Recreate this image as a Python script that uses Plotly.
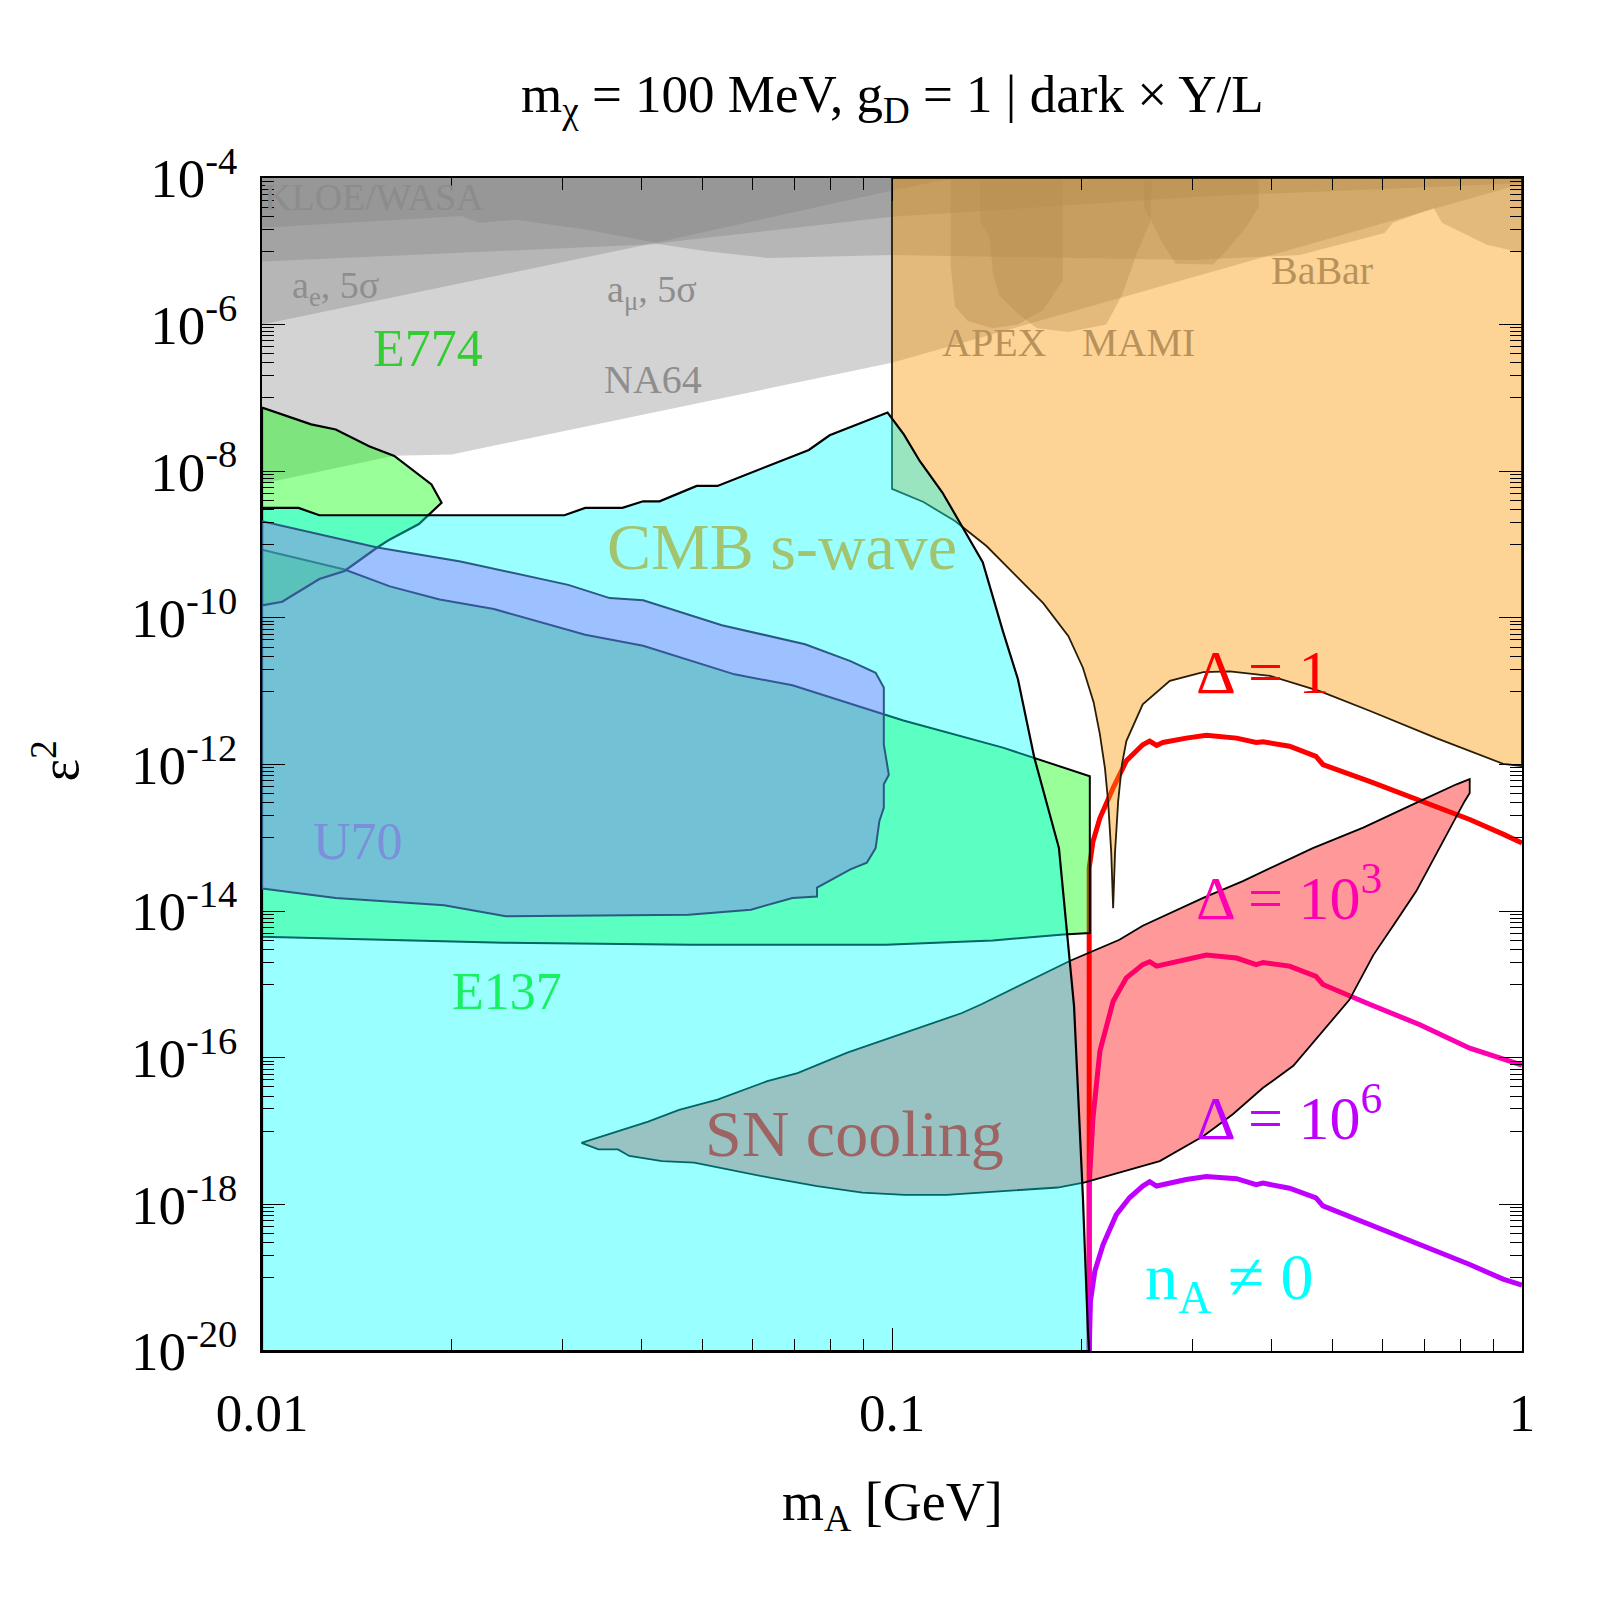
import numpy as np
import plotly.graph_objects as go

# all boundaries, stored as log10(m_A / GeV) and log10(eps^2)

# grey constraints (upper part), lower edges
na64_lx = [-2.0, -1.790, -1.699, -1.0, 0.0]
na64_ly = [-8.17, -7.79, -7.77, -6.52, -4.08]
ae_lx = [-2.0, -1.373, -1.0, -0.90]
ae_ly = [-6.0, -4.88, -4.17, -4.0]
amu_lx = [-2.0, -1.371, -1.294, -1.197, -1.0, -0.522, -0.353, -0.218, -0.205, -0.140, -0.127, -0.056, 0.0]
amu_ly = [-5.14, -4.90, -5.0, -5.09, -5.05, -5.12, -5.05, -4.75, -4.61, -4.41, -4.61, -4.91, -5.02]
kloe_lx = [-2.0, -1.683, -1.656, -1.598, -1.488, -1.371, -1.0, -0.5, 0.0]
kloe_ly = [-4.68, -4.52, -4.61, -4.57, -4.70, -4.89, -4.53, -4.25, -4.07]

# darker patches inside the orange area
apex_lx = [-0.907, -0.907, -0.90, -0.88, -0.84, -0.80, -0.76, -0.729, -0.729]
apex_ly = [-4.0, -5.2, -5.75, -5.95, -6.05, -6.0, -5.8, -5.4, -4.0]
mami_lx = [-0.86, -0.86, -0.845, -0.84, -0.83, -0.80, -0.77, -0.72, -0.66, -0.635, -0.61, -0.59, -0.587]
mami_ly = [-4.0, -4.6, -4.8, -5.3, -5.6, -5.85, -6.05, -6.1, -6.0, -5.6, -5.0, -4.6, -4.0]
babar_lx = [-0.60, -0.60, -0.57, -0.55, -0.49, -0.47, -0.44, -0.418, -0.418]
babar_ly = [-4.0, -4.4, -4.9, -5.17, -5.18, -5.0, -4.7, -4.4, -4.0]

# orange region with the resonance dip
orange_lx = [-1.0, -1.0, -0.95, -0.90, -0.85, -0.80, -0.76, -0.72, -0.697, -0.680, -0.670, -0.662,
             -0.657, -0.652, -0.649, -0.646, -0.641, -0.635, -0.628, -0.602, -0.559, -0.506, -0.464,
             -0.400, -0.321, -0.241, -0.136, -0.030, 0.0, 0.0]
orange_ly = [-4.0, -8.24, -8.42, -8.68, -9.02, -9.45, -9.80, -10.25, -10.68, -11.15, -11.59, -12.05,
             -12.50, -13.2, -13.96, -13.2, -12.50, -12.0, -11.68, -11.18, -10.86, -10.74, -10.73,
             -10.79, -11.0, -11.27, -11.64, -11.99, -12.02, -4.0]

# CMB s-wave
cmb_lx = [-2.0, -1.942, -1.909, -1.520, -1.487, -1.428, -1.395, -1.369, -1.310, -1.277, -1.132, -1.099,
          -1.007, -0.981, -0.956, -0.920, -0.897, -0.856, -0.824, -0.800, -0.774, -0.735, -0.711, -0.697,
          -0.689, -0.687, -2.0]
cmb_ly = [-8.50, -8.50, -8.60, -8.60, -8.50, -8.50, -8.41, -8.41, -8.20, -8.20, -7.71, -7.51,
          -7.20, -7.50, -7.86, -8.29, -8.63, -9.24, -10.18, -10.84, -11.91, -13.14, -15.3, -17.9,
          -19.73, -20.0, -20.0]

# E137
e137_lx = [-2.0, -1.869, -1.797, -1.718, -1.632, -1.487, -1.395, -1.250, -1.158, -0.982, -0.824, -0.686,
           -0.686, -0.728, -0.840, -1.010, -1.320, -1.617, -2.0]
e137_ly = [-9.07, -9.34, -9.57, -9.75, -9.88, -10.23, -10.38, -10.77, -10.92, -11.40, -11.77, -12.16,
           -14.30, -14.32, -14.40, -14.46, -14.46, -14.43, -14.35]

# E774
e774_lx = [-2.0, -1.968, -1.922, -1.883, -1.830, -1.790, -1.731, -1.715, -1.738, -1.751, -1.797, -1.817,
           -1.869, -1.909, -1.968, -2.0]
e774_ly = [-7.13, -7.22, -7.36, -7.43, -7.66, -7.79, -8.18, -8.43, -8.61, -8.72, -8.93, -9.04,
           -9.36, -9.47, -9.78, -9.83]

# U70
u70_lx = [-2.0, -1.817, -1.685, -1.514, -1.448, -1.395, -1.270, -1.204, -1.138, -1.066, -1.026, -1.013,
          -1.013, -1.005, -1.013, -1.013, -1.020, -1.026, -1.040, -1.066, -1.092, -1.119, -1.119, -1.158,
          -1.224, -1.323, -1.613, -1.711, -1.883, -2.0]
u70_ly = [-8.68, -9.04, -9.23, -9.55, -9.73, -9.76, -10.10, -10.23, -10.36, -10.59, -10.75, -10.95,
          -11.73, -12.14, -12.27, -12.59, -12.77, -13.14, -13.34, -13.43, -13.55, -13.68, -13.80, -13.82,
          -13.98, -14.05, -14.07, -13.92, -13.82, -13.69]

# SN cooling
sn_lx = [-1.493, -1.387, -1.338, -1.277, -1.198, -1.150, -1.071, -0.998, -0.889, -0.858, -0.718, -0.639,
         -0.602, -0.506, -0.443, -0.332, -0.252, -0.162, -0.104, -0.083, -0.083, -0.091, -0.136, -0.168,
         -0.200, -0.236, -0.274, -0.316, -0.363, -0.411, -0.459, -0.506, -0.575, -0.694, -0.737, -0.913,
         -0.980, -1.047, -1.119, -1.192, -1.314, -1.365, -1.417, -1.435, -1.466]
sn_ly = [-17.16, -16.87, -16.71, -16.57, -16.32, -16.21, -15.93, -15.71, -15.39, -15.27, -14.68, -14.39,
         -14.20, -13.82, -13.59, -13.14, -12.86, -12.50, -12.27, -12.20, -12.39, -12.50, -13.23, -13.73,
         -14.14, -14.6, -15.21, -15.64, -16.11, -16.41, -16.77, -17.07, -17.41, -17.70, -17.77, -17.87,
         -17.87, -17.84, -17.75, -17.64, -17.43, -17.41, -17.34, -17.25, -17.25]

# relic curves
d_lx = [-0.687, -0.687, -0.681, -0.670, -0.649, -0.628, -0.602, -0.591, -0.580, -0.570, -0.533, -0.501,
        -0.453, -0.422, -0.411, -0.369, -0.327, -0.316, -0.242, -0.162, -0.083, -0.030, 0.0]
d1_ly = [-20.0, -13.41, -13.05, -12.73, -12.32, -11.95, -11.73, -11.68, -11.74, -11.70, -11.64, -11.60,
         -11.64, -11.70, -11.69, -11.75, -11.89, -12.00, -12.23, -12.50, -12.75, -12.95, -13.07]
d3_ly = [-20.0, -17.73, -16.82, -15.91, -15.23, -14.91, -14.73, -14.69, -14.75, -14.73, -14.65, -14.60,
         -14.64, -14.73, -14.70, -14.75, -14.89, -15.00, -15.27, -15.55, -15.87, -16.02, -16.10]
d6_lx = [-0.687, -0.685, -0.678, -0.665, -0.644, -0.623, -0.602, -0.591, -0.580, -0.570, -0.533, -0.501,
         -0.453, -0.422, -0.411, -0.369, -0.327, -0.316, -0.242, -0.162, -0.083, -0.030, 0.0]
d6_ly = [-20.0, -19.32, -18.91, -18.55, -18.14, -17.91, -17.75, -17.69, -17.75, -17.73, -17.66, -17.62,
         -17.65, -17.73, -17.71, -17.78, -17.91, -18.02, -18.27, -18.55, -18.82, -19.02, -19.10]

y_major = [-4, -6, -8, -10, -12, -14, -16, -18, -20]

FONT = "Liberation Serif"
GREY = "rgba(128,128,128,0.35)"


def lin(v):
    return np.power(10.0, np.array(v, dtype=float))


def region(lx, ly, fill, line="black", width=2.0):
    lx = list(lx) + [lx[0]]
    ly = list(ly) + [ly[0]]
    return go.Scatter(x=lin(lx), y=lin(ly), mode="lines", fill="toself", fillcolor=fill,
                      line=dict(color=line, width=width), hoverinfo="skip", showlegend=False)


def grey_band(lx, ly):
    # band from the given lower edge up to the top of the frame
    px = list(lx) + [lx[-1], lx[0]]
    py = list(ly) + [-4.0, -4.0]
    return region(px, py, GREY, line="rgba(0,0,0,0)", width=0)


def curve(lx, ly, color):
    return go.Scatter(x=lin(lx), y=lin(ly), mode="lines", line=dict(color=color, width=5),
                      hoverinfo="skip", showlegend=False)


fig = go.Figure()
for lx, ly in [(na64_lx, na64_ly), (ae_lx, ae_ly), (amu_lx, amu_ly), (kloe_lx, kloe_ly)]:
    fig.add_trace(grey_band(lx, ly))
for lx, ly in [(apex_lx, apex_ly), (mami_lx, mami_ly), (babar_lx, babar_ly)]:
    fig.add_trace(region(lx, ly, GREY, line="rgba(0,0,0,0)", width=0))

fig.add_trace(curve(d_lx, d1_ly, "#ff0000"))
fig.add_trace(curve(d_lx, d3_ly, "#ff00b0"))
fig.add_trace(curve(d6_lx, d6_ly, "#c000ff"))

fig.add_trace(region(orange_lx, orange_ly, "rgba(250,153,5,0.42)", line="#2a1c05", width=1.8))
fig.add_trace(region(sn_lx, sn_ly, "rgba(255,0,0,0.4)", width=1.8))
fig.add_trace(region(e137_lx, e137_ly, "rgba(0,255,0,0.4)", width=2.0))
fig.add_trace(region(e774_lx, e774_ly, "rgba(0,255,0,0.4)", width=2.2))
fig.add_trace(region(cmb_lx, cmb_ly, "rgba(0,255,255,0.4)", width=2.2))
fig.add_trace(region(u70_lx, u70_ly, "rgba(169,55,255,0.31)", line="#285a82", width=2.0))


def label(text, lx, ly, color, size, anchor="center"):
    fig.add_annotation(x=lx, y=ly, xref="x", yref="y", text=text, showarrow=False,
                       xanchor=anchor, yanchor="middle",
                       font=dict(family=FONT, size=size, color=color))


label("KLOE/WASA", -2.0, -4.26, "#8c8c8c", 38, anchor="left")
label("a<sub>e</sub>, 5σ", -1.884, -5.50, "#8e8e8e", 38)
label("a<sub>μ</sub>, 5σ", -1.381, -5.55, "#8e8e8e", 38)
label("NA64", -1.379, -6.75, "#8e8e8e", 40)
label("E774", -1.736, -6.33, "#33cc33", 52)
label("APEX", -0.837, -6.24, "#b8925a", 40)
label("MAMI", -0.609, -6.24, "#b8925a", 40)
label("BaBar", -0.317, -5.26, "#b8925a", 40)
label("CMB s-wave", -1.175, -9.03, "#a3c46f", 66)
label("U70", -1.848, -13.05, "#7b8fdb", 52)
label("E137", -1.611, -15.09, "#19ef63", 52)
label("SN cooling", -1.060, -17.04, "#9e6464", 66)
label("Δ = 1", -0.520, -10.74, "#ff0000", 62, anchor="left")
label("Δ = 10<sup>3</sup>", -0.520, -13.75, "#ff00b0", 62, anchor="left")
label("Δ = 10<sup>6</sup>", -0.520, -16.75, "#c000ff", 62, anchor="left")
label("n<sub>A</sub> ≠ 0", -0.602, -19.05, "#00ffff", 66, anchor="left")

fig.add_annotation(x=0.5, y=1.068, xref="paper", yref="paper", showarrow=False,
                   xanchor="center", yanchor="middle",
                   text="m<sub>χ</sub> = 100 MeV, g<sub>D</sub> = 1 | dark × Y/L",
                   font=dict(family=FONT, size=53, color="black"))
fig.add_annotation(x=0.5, y=-0.132, xref="paper", yref="paper", showarrow=False,
                   xanchor="center", yanchor="middle",
                   text="m<sub>A</sub> [GeV]", font=dict(family=FONT, size=54, color="black"))
fig.add_annotation(x=-0.163, y=0.503, xref="paper", yref="paper", showarrow=False, textangle=-90,
                   xanchor="center", yanchor="middle",
                   text="ε<sup>2</sup>", font=dict(family=FONT, size=54, color="black"))

x_minor = [k * 10.0 ** e for e in (-2, -1) for k in range(2, 10)]
y_minor = [k * 10.0 ** e for e in range(-19, -4, 2) for k in range(1, 10)]

axis_common = dict(type="log", showline=True, linecolor="black", linewidth=1.5, mirror="allticks",
                   ticks="inside", ticklen=23, tickwidth=1.2, tickcolor="black", showgrid=False,
                   zeroline=False)

fig.update_layout(
    width=1600, height=1600,
    margin=dict(l=254, r=86, t=170, b=257),
    plot_bgcolor="white", paper_bgcolor="white",
    font=dict(family=FONT),
    xaxis=dict(axis_common, range=[-2, 0], tickmode="array", tickvals=[0.01, 0.1, 1],
               ticktext=["0.01", "0.1", "1"], ticklabelstandoff=15,
               tickfont=dict(family=FONT, size=53, color="black"),
               minor=dict(ticks="inside", ticklen=12, tickwidth=1, tickcolor="black",
                          tickmode="array", tickvals=x_minor)),
    yaxis=dict(axis_common, range=[-20, -4], tickmode="array", tickvals=[10.0 ** e for e in y_major],
               ticktext=["10<sup>%d</sup>" % e for e in y_major], ticklabelstandoff=12,
               tickfont=dict(family=FONT, size=55, color="black"),
               minor=dict(ticks="inside", ticklen=12, tickwidth=1, tickcolor="black",
                          tickmode="array", tickvals=y_minor)),
)

fig.write_html("out.html")
